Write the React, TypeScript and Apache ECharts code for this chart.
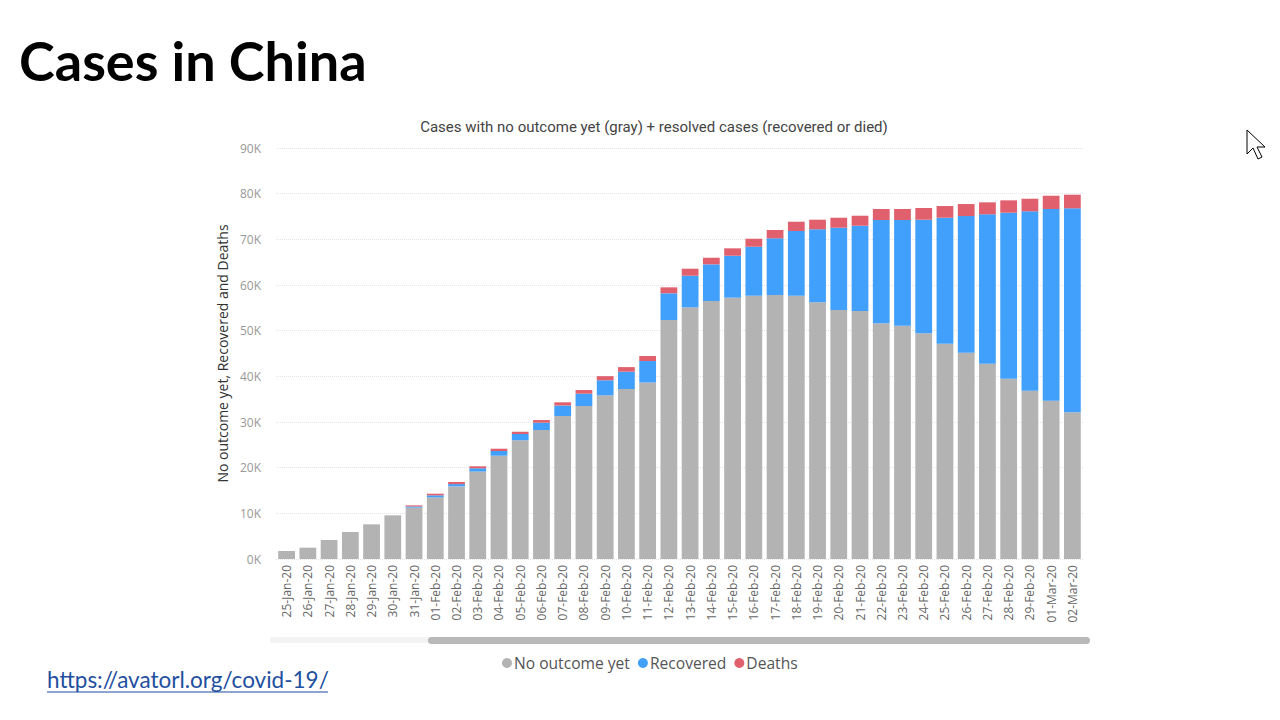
import React, { useEffect, useRef } from "react";
import * as echarts from "echarts";

const categories = [
  "25-Jan-20", "26-Jan-20", "27-Jan-20", "28-Jan-20", "29-Jan-20", "30-Jan-20", "31-Jan-20",
  "01-Feb-20", "02-Feb-20", "03-Feb-20", "04-Feb-20", "05-Feb-20", "06-Feb-20", "07-Feb-20",
  "08-Feb-20", "09-Feb-20", "10-Feb-20", "11-Feb-20", "12-Feb-20", "13-Feb-20", "14-Feb-20",
  "15-Feb-20", "16-Feb-20", "17-Feb-20", "18-Feb-20", "19-Feb-20", "20-Feb-20", "21-Feb-20",
  "22-Feb-20", "23-Feb-20", "24-Feb-20", "25-Feb-20", "26-Feb-20", "27-Feb-20", "28-Feb-20",
  "29-Feb-20", "01-Mar-20", "02-Mar-20",
];

const noOutcome = [
  1750, 2480, 4160, 5910, 7590, 9560, 11260,
  13510, 15900, 19150, 22620, 25990, 28250, 31310,
  33500, 35840, 37220, 38650, 52330, 55110, 56490,
  57220, 57650, 57810, 57650, 56210, 54520, 54300,
  51610, 51080, 49420, 47140, 45170, 42760, 39480,
  36850, 34660, 32120,
];

const recovered = [
  0, 0, 0, 0, 0, 0, 240,
  430, 500, 720, 1030, 1380, 1600, 2300,
  2700, 3300, 3800, 4700, 5850, 6920, 8030,
  9190, 10730, 12410, 14170, 15980, 18020, 18680,
  22620, 23150, 24870, 27590, 29930, 32720, 36350,
  39280, 41980, 44670,
];

const deaths = [
  0, 0, 0, 0, 0, 0, 250,
  360, 460, 430, 500, 510, 580, 700,
  800, 900, 1000, 1100, 1310, 1540, 1450,
  1620, 1750, 1820, 2040, 2110, 2190, 2190,
  2410, 2410, 2570, 2560, 2630, 2620, 2710,
  2760, 2910, 2980,
];

const seriesNames = ["No outcome yet", "Recovered", "Deaths"];
const seriesColors = ["#b3b3b3", "#41a0fb", "#e0606e"];

export default function App() {
  const ref = useRef<HTMLDivElement>(null);

  useEffect(() => {
    if (!ref.current) return;
    const chart = echarts.init(ref.current, null, { renderer: "svg" });
    const values = [noOutcome, recovered, deaths];
    chart.setOption({
      animation: false,
      backgroundColor: "#ffffff",
      title: {
        text: "Cases with no outcome yet (gray) + resolved cases (recovered or died)",
        left: 649,
        top: 114,
        textAlign: "center",
        textStyle: {
          fontFamily: "Roboto",
          fontSize: 15,
          fontWeight: "normal",
          color: "#444444",
        },
      },
      legend: {
        data: seriesNames,
        left: 497,
        top: 650,
        icon: "circle",
        itemWidth: 10,
        itemHeight: 10,
        itemGap: 8,
        textStyle: { fontFamily: "Open Sans", fontSize: 15.6, color: "#555555", padding: [0, 0, 0, -3] },
      },
      grid: { left: 276, right: 1280 - 1083, top: 148, bottom: 720 - 559, containLabel: false },
      xAxis: {
        type: "category",
        data: categories,
        axisLine: { show: false },
        axisTick: { show: false },
        axisLabel: {
          rotate: 90,
          margin: 6,
          interval: 0,
          fontFamily: "Open Sans",
          fontSize: 12,
          color: "#666666",
        },
      },
      yAxis: {
        type: "value",
        min: 0,
        max: 90000,
        interval: 10000,
        name: "No outcome yet, Recovered and Deaths",
        nameLocation: "middle",
        nameRotate: 90,
        nameGap: 40,
        nameTextStyle: { fontFamily: "Open Sans", fontSize: 14, color: "#333333" },
        axisLine: { show: false },
        axisTick: { show: false },
        axisLabel: {
          margin: 15,
          fontFamily: "Open Sans",
          fontSize: 12,
          color: "#999999",
          formatter: (v: number) => `${v / 1000}K`,
        },
        splitLine: { show: true, lineStyle: { type: "dotted", color: "#e4e4e4", width: 1 } },
      },
      series: seriesNames.map((name, i) => ({
        name,
        type: "bar",
        stack: "total",
        data: values[i],
        barCategoryGap: "21%",
        itemStyle: { color: seriesColors[i] },
      })),
      graphic: [
        {
          type: "text",
          left: 19,
          top: 33,
          style: {
            text: "Cases in China",
            fontFamily: "Lato",
            fontWeight: "bold",
            fontSize: 54,
            fill: "#000000",
          },
        },
        {
          type: "text",
          left: 47,
          top: 668,
          style: {
            text: "https://avatorl.org/covid-19/",
            fontFamily: "Lato",
            fontSize: 22.5,
            fill: "#1f4fa0",
          },
        },
        {
          type: "line",
          shape: { x1: 47, y1: 692, x2: 328, y2: 692 },
          style: { stroke: "#1f4fa0", lineWidth: 1.2 },
        },
        {
          type: "rect",
          shape: { x: 270, y: 637, width: 820, height: 6, r: 3 },
          style: { fill: "#f3f3f3" },
        },
        {
          type: "rect",
          shape: { x: 428, y: 637, width: 662, height: 7, r: 3.5 },
          style: { fill: "#b8b8b8" },
        },
        {
          type: "polygon",
          shape: {
            points: [
              [1247, 130], [1247, 154], [1253, 148], [1258, 159], [1262, 157], [1257, 147], [1265, 147],
            ],
          },
          style: { fill: "#ffffff", stroke: "#000000", lineWidth: 1 },
        },
      ],
    });
    return () => chart.dispose();
  }, []);

  return (
    <div
      ref={ref}
      style={{ position: "absolute", left: 0, top: 0, width: 1280, height: 720 }}
    />
  );
}
